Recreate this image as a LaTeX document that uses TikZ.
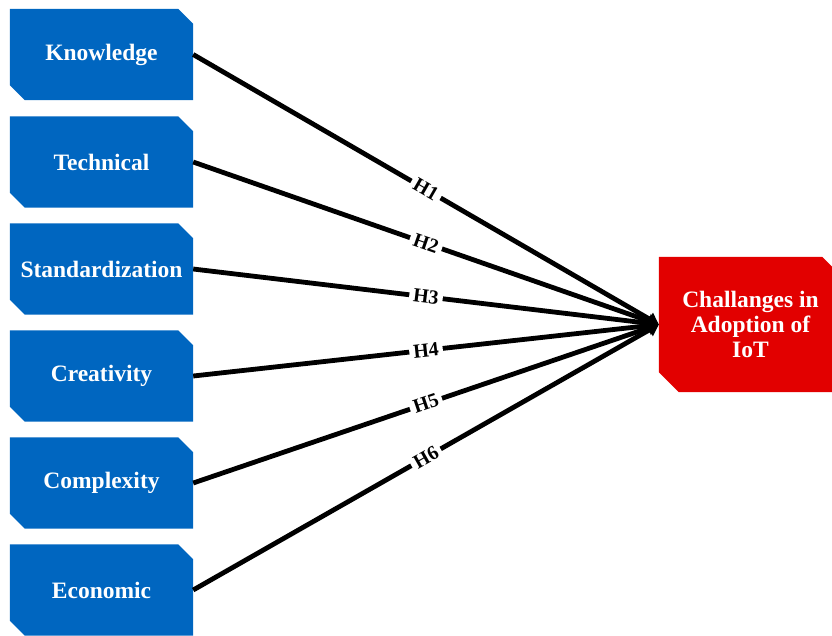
\documentclass[tikz,border=0pt]{standalone}
\usepackage{fontspec}
\setmainfont{Liberation Serif}
\usetikzlibrary{arrows.meta,backgrounds}
\definecolor{boxblue}{RGB}{0,102,192}
\definecolor{boxred}{RGB}{226,0,0}
\newcommand{\snipfill}[3]{%
  \fill[#2] (#1.north west) -- ([xshift=-#3]#1.north east) -- ([yshift=-#3]#1.north east)
    -- (#1.south east) -- ([xshift=#3]#1.south west) -- ([yshift=#3]#1.south west) -- cycle;}
\begin{document}
\begin{tikzpicture}[x=1pt,y=-1pt,
  factor/.style={minimum width=183pt, minimum height=91pt, inner sep=0pt, text=white,
    font=\fontsize{23.5}{25}\selectfont\bfseries, align=center},
  target/.style={factor, minimum height=135pt},
  link/.style={line width=4.8pt, -{Triangle[length=11pt,width=14pt]}},
  hyp/.style={midway, sloped, fill=white, inner xsep=4pt, inner ysep=1pt,
    font=\fontsize{20}{20}\selectfont\bfseries}
]
\clip (0,0) rectangle (832,635);
\useasboundingbox (0,0) rectangle (832,635);

\node[factor] (kn) at (101.5,54.5) {Knowledge};
\node[factor] (te) at (101.5,162) {Technical};
\node[factor] (st) at (101.5,269) {Standardization};
\node[factor] (cr) at (101.5,376) {Creativity};
\node[factor] (co) at (101.5,483) {Complexity};
\node[factor] (ec) at (101.5,590) {Economic};
\node[target] (ch) at (750.5,324.5) {Challanges in\\Adoption of\\IoT};

\begin{scope}[on background layer]
  \foreach \n in {kn,te,st,cr,co,ec} {\snipfill{\n}{boxblue}{15pt}}
  \snipfill{ch}{boxred}{20pt}
\end{scope}

\draw[link] (kn.east) -- node[hyp] {H1} (ch.west);
\draw[link] (te.east) -- node[hyp] {H2} (ch.west);
\draw[link] (st.east) -- node[hyp] {H3} (ch.west);
\draw[link] (cr.east) -- node[hyp] {H4} (ch.west);
\draw[link] (co.east) -- node[hyp] {H5} (ch.west);
\draw[link] (ec.east) -- node[hyp] {H6} (ch.west);
\end{tikzpicture}
\end{document}
